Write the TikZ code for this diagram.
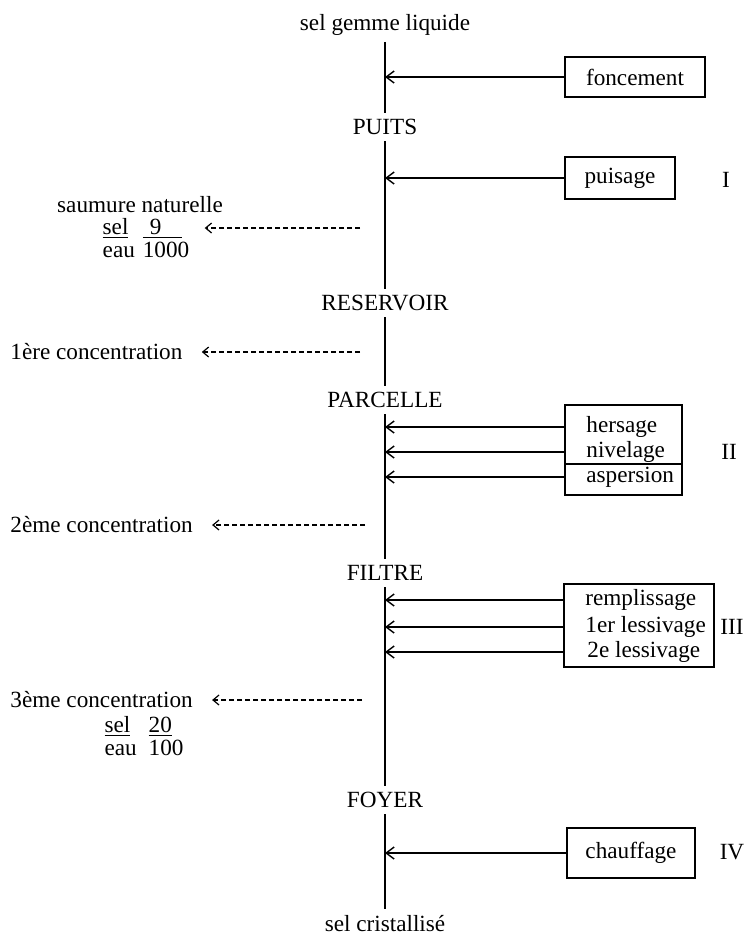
\documentclass[tikz,border=0pt]{standalone}
\usepackage{fontspec}
\setmainfont{Liberation Serif}
\usepackage{tikz}
\usetikzlibrary{arrows.meta}

\begin{document}
\begin{tikzpicture}[
	x = 0.5pt, y = -0.5pt,
	font = \fontsize{11.6}{11.6}\selectfont,
	stage/.style = {inner xsep=2pt, inner ysep=3pt},
	note/.style = {inner sep=0pt},
	box/.style = {draw, line width=0.8pt, inner sep=0pt},
	task/.style = {anchor=west, inner sep=0pt},
	mainline/.style = {line width=1pt},
	feed/.style = {line width=0.7pt, -{Straight Barb[length=4pt, width=6pt]}},
	drain/.style = {line width=0.6pt, dash pattern=on 2.4pt off 1.6pt,
		shorten >=9.5pt, -{Straight Barb[length=3pt, width=5pt]}}
	]
	\useasboundingbox (0,0) rectangle (745,934);
	\node[stage] (source) at (385,25) {sel gemme liquide};
	\node[stage] (puits) at (385,127) {PUITS};
	\node[stage] (reservoir) at (385,303) {RESERVOIR};
	\node[stage] (parcelle) at (385,400) {PARCELLE};
	\node[stage] (filtre) at (385,573) {FILTRE};
	\node[stage] (foyer) at (385,800) {FOYER};
	\node[stage] (product) at (385,924) {sel cristallisé};
	\draw[mainline] (source) -- (puits) -- (reservoir) -- (parcelle) -- (filtre) -- (foyer) -- (product);

	\node[box, minimum width=70pt, minimum height=20pt] (foncement) at (635,77) {foncement};
	\draw[feed] (foncement) -- (foncement -| puits);
	\node[box, minimum width=55pt, minimum height=21pt] (puisage) at (620,178) {puisage};
	\draw[feed] (puisage) -- (puisage -| puits);
	\node[note] (phase1) at (726,180) {I};

	\node[box, minimum width=58.5pt, minimum height=29.5pt] (travail) at (623.5,434.5) {};
	\node[box, minimum width=58.5pt, minimum height=15.5pt] (arrosage) at (623.5,479.5) {};
	\node[task] (hersage) at (586,427) {hersage};
	\node[task] (nivelage) at (586,452) {nivelage};
	\node[task] (aspersion) at (586,477) {aspersion};
	\foreach \op in {hersage, nivelage, aspersion}
		\draw[feed] (travail.west |- \op) -- (puits |- \op);
	\node[note] (phase2) at (729,452) {II};

	\node[box, minimum width=75pt, minimum height=41.5pt] (lavage) at (639,625.5) {};
	\node[task] (remplissage) at (585,600) {remplissage};
	\node[task] (lessivage1) at (585,627) {1er lessivage};
	\node[task] (lessivage2) at (587,652) {2e lessivage};
	\foreach \op in {remplissage, lessivage1, lessivage2}
		\draw[feed] (lavage.west |- \op) -- (puits |- \op);
	\node[note] (phase3) at (732,627) {III};

	\node[box, minimum width=64pt, minimum height=25pt] (chauffage) at (631,853) {chauffage};
	\draw[feed] (chauffage) -- (chauffage -| puits);
	\node[note] (phase4) at (732,852) {IV};

	\node[note] (saumure) at (140,205) {saumure naturelle};
	\node[note] (ratio1) at (146,241) {\begin{tabular}{@{}l@{\hspace{4pt}}l@{}}
		\underline{sel} & \underline{\makebox[1.7em][l]{\hspace{0.3em}9}}\\
		eau & 1000
	\end{tabular}};
	\coordinate (d0) at (360,228);
	\draw[drain, shorten >=7.5pt] (d0) -- (d0 -| ratio1.east);

	\node[note, anchor=west] (conc1) at (10,352) {1ère concentration};
	\coordinate (d1) at (360,352);
	\draw[drain] (d1) -- (d1 -| conc1.east);

	\node[note, anchor=west] (conc2) at (10,525) {2ème concentration};
	\coordinate (d2) at (365,525);
	\draw[drain] (d2) -- (d2 -| conc2.east);

	\node[note, anchor=west] (conc3) at (10,700) {3ème concentration};
	\coordinate (d3) at (362,700);
	\draw[drain] (d3) -- (d3 -| conc3.east);
	\node[note] (ratio3) at (144,739) {\begin{tabular}{@{}l@{\hspace{6pt}}l@{}}
		\underline{sel} & \underline{20}\\
		eau & 100
	\end{tabular}};
\end{tikzpicture}
\end{document}
